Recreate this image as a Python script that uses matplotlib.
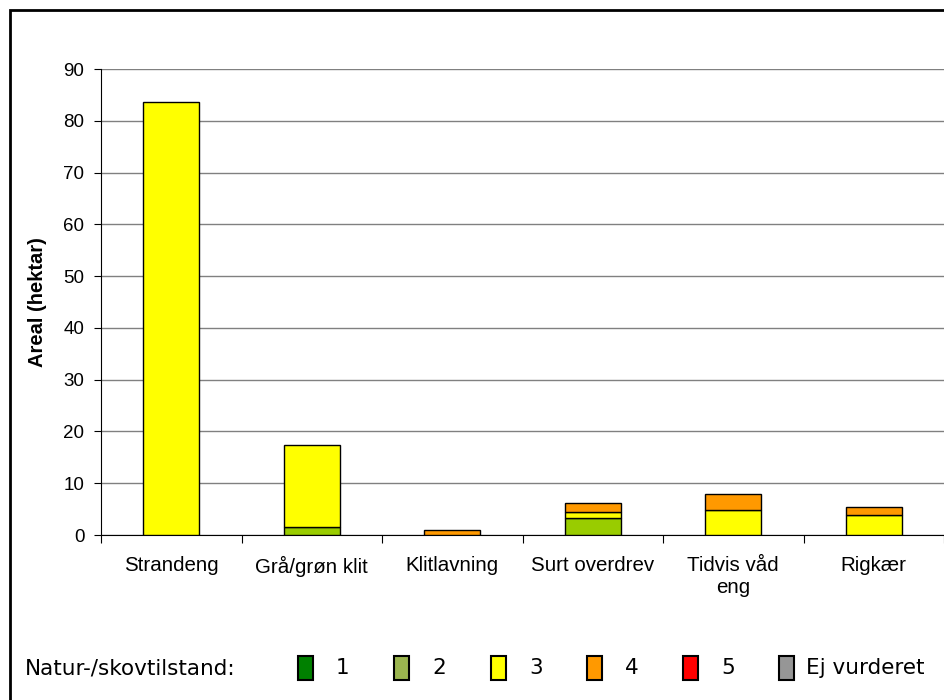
import matplotlib.pyplot as plt
from matplotlib.patches import Rectangle
import numpy as np

categories = ["Strandeng", "Grå/grøn klit", "Klitlavning", "Surt overdrev", "Tidvis våd\neng", "Rigkær"]
tilstand_1 = np.array([0, 0, 0, 0, 0, 0])
tilstand_2 = np.array([0, 1.5, 0, 3.2, 0, 0])
tilstand_3 = np.array([83.6, 15.8, 0, 1.2, 4.9, 3.8])
tilstand_4 = np.array([0, 0, 1.0, 1.7, 3.0, 1.6])
tilstand_5 = np.array([0, 0, 0, 0, 0, 0])
ej_vurderet = np.array([0, 0, 0, 0, 0, 0])

series = [tilstand_1, tilstand_2, tilstand_3, tilstand_4, tilstand_5, ej_vurderet]
bar_colors = ["#008000", "#99CC00", "#FFFF00", "#FF9900", "#FF0000", "#969696"]
legend_colors = ["#008000", "#9BB54F", "#FFFF00", "#FF9900", "#FF0000", "#969696"]
legend_labels = ["1", "2", "3", "4", "5", "Ej vurderet"]

fig = plt.figure(figsize=(9.45, 7), dpi=100)
ax = fig.add_axes([101/945, 165/700, 843/945, 466/700])

x = np.arange(len(categories))
bottom = np.zeros(len(categories))
for vals, c in zip(series, bar_colors):
    mask = vals > 0
    ax.bar(x[mask], vals[mask], 0.4, bottom=bottom[mask], color=c,
           edgecolor="black", linewidth=1, zorder=3)
    bottom += vals

ax.set_xlim(-0.5, len(categories) - 0.5)
ax.set_ylim(0, 90)
ax.set_yticks(range(0, 91, 10))
ax.yaxis.grid(True, color="#808080", linewidth=1, zorder=0)
ax.tick_params(axis="y", direction="out", length=5, labelsize=13.5, pad=7)
for lbl in ax.get_yticklabels():
    lbl.set_fontfamily("Liberation Sans")

ax.set_xticks(np.arange(-0.5, len(categories)), [""] * (len(categories) + 1))
ax.tick_params(axis="x", which="major", direction="out", length=6)
ax.set_xticks(x, categories, minor=True)
ax.tick_params(axis="x", which="minor", length=0, labelsize=14.8, pad=15)
for lbl in ax.get_xticklabels(minor=True):
    lbl.set_fontfamily("Liberation Sans")

for s in ["top", "right"]:
    ax.spines[s].set_visible(False)
ax.spines["left"].set_color("black")
ax.spines["bottom"].set_color("black")

ax.set_ylabel("Areal (hektar)", fontsize=14.5, fontweight="bold", family="Liberation Sans", labelpad=12)

# outer frame
fig.patches.append(Rectangle((10/945, -0.1), 1.2, 0.1 + 690/700, transform=fig.transFigure,
                             fill=False, edgecolor="black", linewidth=2))

# legend
fig.text(25/945, 1 - 668/700, "Natur-/skovtilstand:", fontsize=15.5, family="DejaVu Sans", va="center")
sq_x = [298, 394, 491, 587, 683, 779]
for px, col, lab in zip(sq_x, legend_colors, legend_labels):
    fig.patches.append(Rectangle((px/945, 1 - 680/700), 15/945, 24/700, transform=fig.transFigure,
                                 facecolor=col, edgecolor="black", linewidth=1.5))
    off = 38 if lab != "Ej vurderet" else 27
    fig.text((px + off)/945, 1 - 668/700, lab, fontsize=15.5, family="DejaVu Sans", va="center")

fig.savefig("out.png", dpi=100)
